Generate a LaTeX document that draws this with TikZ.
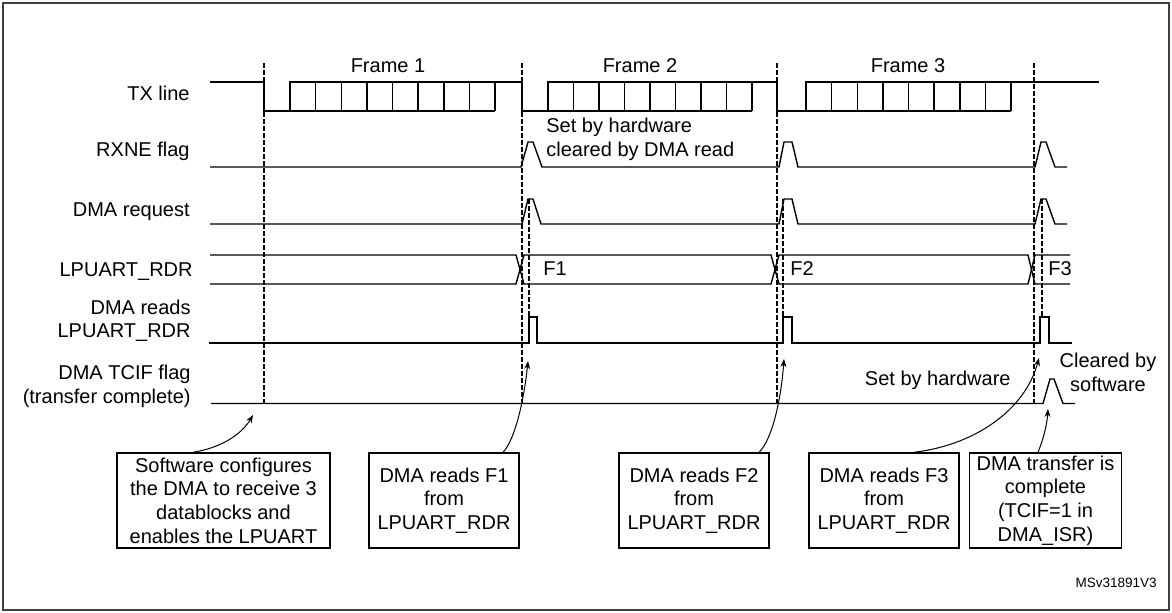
\documentclass[tikz,border=0pt]{standalone}
\usepackage{fontspec}
\setmainfont{Liberation Sans}
\usetikzlibrary{arrows.meta,positioning}
\begin{document}
\begin{tikzpicture}[x=0.5pt,y=-0.5pt,>={Stealth[length=4pt,width=3pt]},
wave/.style={line width=0.7pt},
guide/.style={line width=0.6pt,dash pattern=on 2.3pt off 1.2pt},
sig/.style={inner sep=0pt,align=right,font=\fontsize{10}{11.7}\selectfont},
txt/.style={inner sep=0pt,align=center,font=\fontsize{10}{11.8}\selectfont},
note/.style={draw,line width=0.7pt,align=center,inner sep=0pt,minimum height=47.5pt,font=\fontsize{10}{11.85}\selectfont},]
\useasboundingbox (0,0) rectangle (1172,612);
\draw[line width=1pt,black!75] (2.5,2.5) rectangle (1169,609.5);
\node (txl) at (190,100)[sig,anchor=base east] {TX line};
\node (rxl) at (190,156.7)[sig,anchor=base east] {RXNE flag};
\node (rql) at (190,216.7)[sig,anchor=base east] {DMA request};
\node (rdl) at (193,276)[sig,anchor=base east] {LPUART\_RDR};
\node (rdrl) at (191,321)[sig,anchor=east] {DMA reads\\LPUART\_RDR};
\node (tcl) at (191,386.5)[sig,anchor=east] {DMA TCIF flag\\(transfer complete)};
\node (f1) at (388,72)[txt,anchor=base] {Frame 1};
\node (f2) at (640,72)[txt,anchor=base] {Frame 2};
\node (f3) at (908,72)[txt,anchor=base] {Frame 3};
\node (hw1) at (546,117.5)[txt,anchor=north west,align=left] {Set by hardware\\cleared by DMA read};
\node (hw2) at (1011,385)[txt,anchor=base east] {Set by hardware};
\node (swc) at (1108,352.6)[txt,anchor=north] {Cleared by\\software};
\node (d1) at (543,275.5)[txt,anchor=base west] {F1};
\node (d2) at (790,275.5)[txt,anchor=base west] {F2};
\node (d3) at (1048,275.5)[txt,anchor=base west] {F3};
\node (ref) at (1157,587)[inner sep=0pt,anchor=base east,font=\fontsize{6.75}{8}\selectfont] {MSv31891V3};
\draw[wave] (210,82) -- (264,82) -- (264,111) -- (495,111);
\draw[wave] (290,111) -- (290,82) -- (522,82) -- (522,111) -- (752,111);
\draw[wave] (548,111) -- (548,82) -- (777,82) -- (777,111) -- (1011,111);
\draw[wave] (806,111) -- (806,82) -- (1099,82);
\draw[wave] (315.6,82) -- (315.6,111) (341.3,82) -- (341.3,111) (366.9,82) -- (366.9,111) (392.5,82) -- (392.5,111)
 (418.1,82) -- (418.1,111) (443.8,82) -- (443.8,111) (469.4,82) -- (469.4,111) (495,82) -- (495,111);
\draw[wave] (573.5,82) -- (573.5,111) (599,82) -- (599,111) (624.5,82) -- (624.5,111) (650,82) -- (650,111)
 (675.5,82) -- (675.5,111) (701,82) -- (701,111) (726.5,82) -- (726.5,111) (752,82) -- (752,111);
\draw[wave] (831.6,82) -- (831.6,111) (857.3,82) -- (857.3,111) (882.9,82) -- (882.9,111) (908.5,82) -- (908.5,111)
 (934.1,82) -- (934.1,111) (959.8,82) -- (959.8,111) (985.4,82) -- (985.4,111) (1011,82) -- (1011,111);
\draw[wave] (210,167) -- (521,167) -- (528,142) -- (533,142) -- (542,167) -- (779,167) -- (784,142) -- (792,142) -- (798,167)
 -- (1035,167) -- (1041,142) -- (1046,142) -- (1055,167) -- (1067,167);
\draw[wave] (210,224) -- (522,224) -- (528,199) -- (533,199) -- (541,224) -- (779,224) -- (784,199) -- (792,199) -- (798,224)
 -- (1035,224) -- (1041,199) -- (1046,199) -- (1055,224) -- (1067,224);
\draw[wave] (210,255) -- (516,255) -- (524,284) -- (771,284) -- (779,255) -- (1028,255) -- (1035,284) -- (1070,284);
\draw[wave] (210,284) -- (516,284) -- (524,255) -- (771,255) -- (779,284) -- (1028,284) -- (1035,255) -- (1070,255);
\draw[wave] (209,343) -- (529,343) -- (529,317) -- (537,317) -- (537,343) -- (783,343) -- (783,317) -- (792,317) -- (792,343)
 -- (1040,343) -- (1040,317) -- (1049,317) -- (1049,343) -- (1072,343);
\draw[wave] (211,403.5) -- (1043,403.5) -- (1050,379) -- (1054,379) -- (1063,403.5) -- (1075,403.5);
\draw[guide] (264,63) -- (264,403);
\draw[guide] (522,63) -- (522,403);
\draw[guide] (777,63) -- (777,403);
\draw[guide] (1034,63) -- (1034,403);
\draw[guide] (529,199) -- (529,317);
\draw[guide] (783,199) -- (783,317);
\draw[guide] (1042,199) -- (1042,317);
\node (sw) at (223.5,500.5)[note,minimum width=106.5pt] {Software configures\\the DMA to receive 3\\datablocks and\\enables the LPUART};
\node (rd1) at (444,500.5)[note,minimum width=75pt] {DMA reads F1\\from\\LPUART\_RDR};
\node (rd2) at (694,500.5)[note,minimum width=75pt] {DMA reads F2\\from\\LPUART\_RDR};
\node (rd3) at (884,500.5)[note,minimum width=75pt] {DMA reads F3\\from\\LPUART\_RDR};
\node (done) at (1045.5,500.5)[note,minimum width=76pt] {DMA transfer is\\complete\\(TCIF=1 in\\DMA\_ISR)};
\coordinate (p0) at (253,415);
\coordinate (p1) at (528,361);
\coordinate (p2) at (784,359);
\coordinate (p3) at (1039,358);
\coordinate (p4) at (1048,409);
\draw[->,line width=0.5pt] ([xshift=-15.25pt]sw.north) .. controls (225,447) and (243,432) .. (p0);
\draw[->,line width=0.5pt] ([xshift=29.5pt]rd1.north) .. controls (515,440) and (524,400) .. (p1);
\draw[->,line width=0.5pt] ([xshift=32.5pt]rd2.north) .. controls (772,440) and (781,400) .. (p2);
\draw[->,line width=0.5pt] ([xshift=15pt]rd3.north) .. controls (975,445) and (1025,410) .. (p3);
\draw[->,line width=0.5pt] ([xshift=-3.75pt]done.north) .. controls (1043,440) and (1047,425) .. (p4);
\end{tikzpicture}
\end{document}
